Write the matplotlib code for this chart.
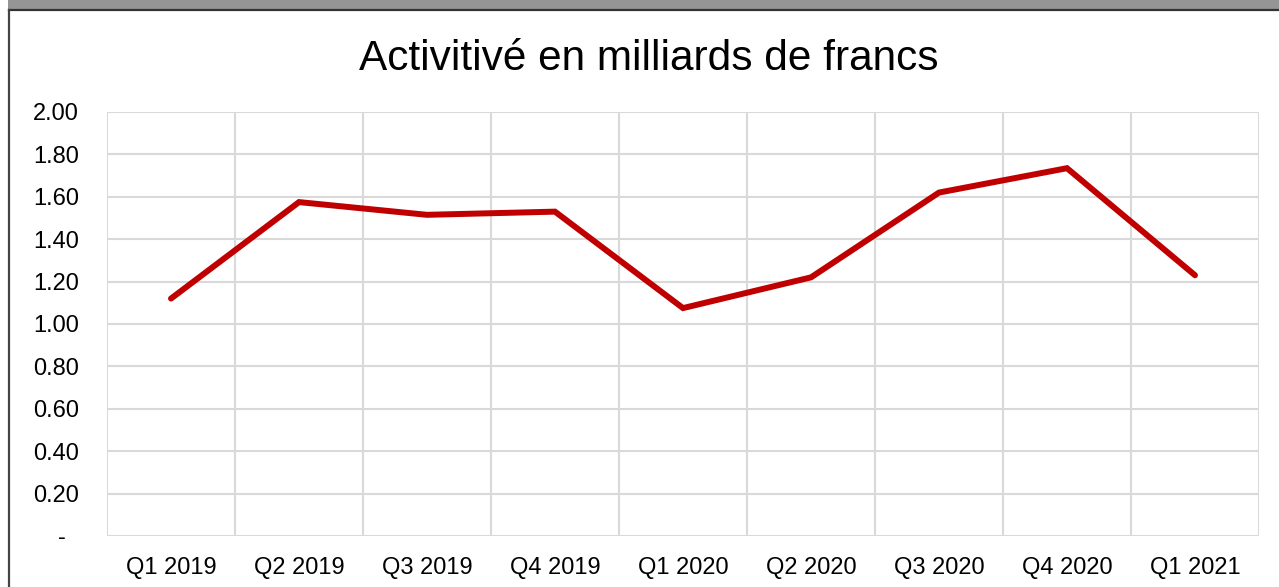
import matplotlib.pyplot as plt
from matplotlib.patches import Rectangle
from matplotlib.lines import Line2D

quarters = ['Q1 2019', 'Q2 2019', 'Q3 2019', 'Q4 2019', 'Q1 2020',
            'Q2 2020', 'Q3 2020', 'Q4 2020', 'Q1 2021']
activite = [1.12, 1.575, 1.515, 1.53, 1.075, 1.22, 1.62, 1.735, 1.23]
y_ticks = [0.0, 0.2, 0.4, 0.6, 0.8, 1.0, 1.2, 1.4, 1.6, 1.8, 2.0]
y_labels = ['-  '] + ['%.2f' % v for v in y_ticks[1:]]

W, H = 1279, 587
plt.rcParams['font.family'] = ['Liberation Sans', 'DejaVu Sans']

fig = plt.figure(figsize=(W / 100, H / 100), dpi=100)
ax = fig.add_axes([107 / W, 1 - 536 / H, (1259 - 107) / W, (536 - 112) / H])

# window frame bits around the chart
fig.patches.append(Rectangle((8 / W, 1 - 9 / H), 1, 9 / H, transform=fig.transFigure,
                             facecolor='#959595', edgecolor='none'))
fig.lines.append(Line2D([8.5 / W, 1], [1 - 10 / H, 1 - 10 / H], transform=fig.transFigure,
                        color='#333333', lw=1.6))
fig.lines.append(Line2D([8.5 / W, 8.5 / W], [0, 1 - 10 / H], transform=fig.transFigure,
                        color='#444444', lw=1.6))

x = list(range(len(quarters)))
ax.plot(x, activite, color='#C00000', lw=4.3, solid_capstyle='round',
        solid_joinstyle='miter', zorder=3)

ax.set_xlim(-0.5, len(quarters) - 0.5)
ax.set_ylim(0, 2.0)
ax.set_xticks(x)
ax.set_xticklabels(quarters)
ax.set_xticks([i + 0.5 for i in range(-1, len(quarters))], minor=True)
ax.set_yticks(y_ticks)
ax.set_yticklabels(y_labels)

ax.grid(True, axis='y', which='major', color='#D9D9D9', lw=1.5)
ax.grid(True, axis='x', which='minor', color='#D9D9D9', lw=1.5)
ax.tick_params(axis='both', which='both', length=0, labelsize=17, colors='black')
ax.tick_params(axis='y', pad=20)
ax.tick_params(axis='x', pad=15)
for s in ax.spines.values():
    s.set_visible(False)

fig.text(649 / W, 1 - 59 / H, 'Activitivé en milliards de francs', fontsize=30.5,
         ha='center', va='center')

fig.savefig('out.png', dpi=100)
